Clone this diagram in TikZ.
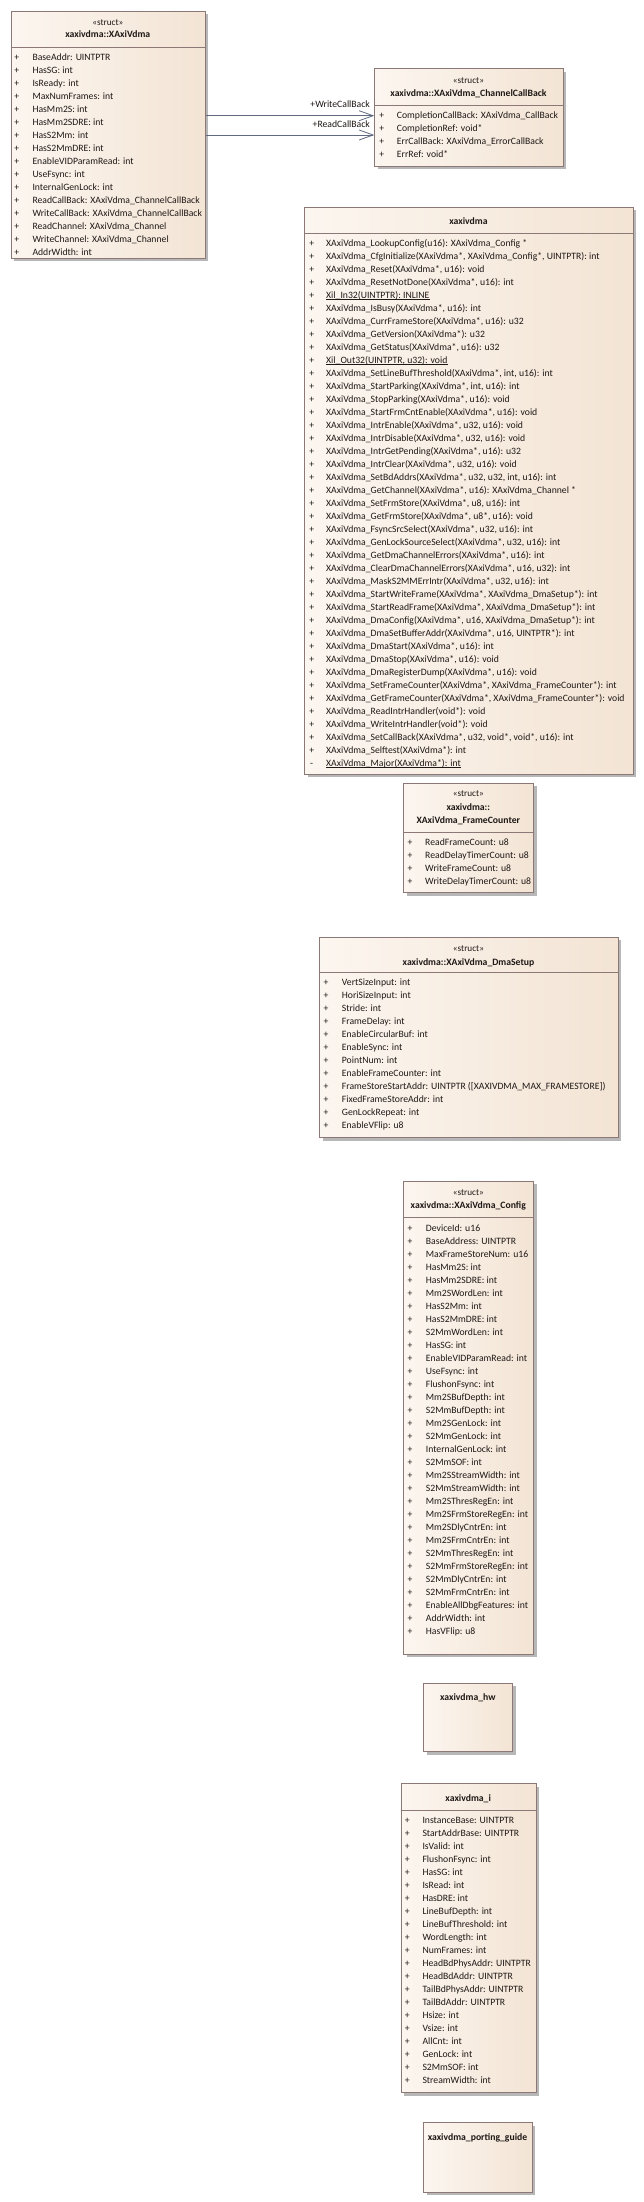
\documentclass[tikz,border=0pt]{standalone}
\usepackage{fontspec}
\setmainfont{Carlito}
\usepackage{tikz}
\usetikzlibrary{arrows.meta,shadows}

\definecolor{boxline}{RGB}{140,120,118}
\definecolor{boxleft}{RGB}{252,246,240}
\definecolor{boxright}{RGB}{243,228,212}
\definecolor{shadowgrey}{RGB}{165,165,165}
\definecolor{linkline}{RGB}{96,106,128}
\definecolor{membertext}{RGB}{30,24,22}

\tikzset{
  umlbox/.style={draw=boxline, line width=0.8pt, left color=boxleft, right color=boxright,
    anchor=north west, inner sep=0pt,
    drop shadow={shadow xshift=3pt, shadow yshift=-3pt, fill=shadowgrey, opacity=0.8}},
  sepline/.style={draw=boxline, line width=0.8pt},
  member/.style={anchor=west, inner sep=0pt, text height=6.8pt, text depth=2pt,
    text=membertext, font=\fontsize{9.7}{11}\selectfont},
  vis/.style={inner sep=0pt, text height=6.8pt, text depth=2pt, text=membertext,
    font=\fontsize{9.7}{11}\selectfont},
  stereo/.style={inner sep=0pt, text height=6.8pt, text depth=2pt, text=membertext,
    font=\fontsize{9.2}{11}\selectfont},
  classname/.style={inner sep=0pt, text height=6.8pt, text depth=2pt, text=membertext,
    font=\fontsize{9.7}{11}\selectfont\bfseries},
  static/.style={draw=membertext, line width=0.6pt},
  assoc/.style={draw=linkline, line width=0.8pt, -{Straight Barb[length=14pt,width=10pt]}},
  rolelabel/.style={anchor=east, inner sep=0pt, text=membertext, font=\fontsize{9.7}{11}\selectfont},
}

\begin{document}
\catcode`\_=12
\begin{tikzpicture}[x=1pt,y=1pt]
\path[use as bounding box, fill=white] (0,0) rectangle (643,-2202);

% struct XAxiVdma
\node[umlbox, minimum width=194.3, minimum height=247.3] (vdma) at (10.7,-10.7) {};
\draw[sepline] ([yshift=-36.3pt]vdma.north west) -- ([yshift=-36.3pt]vdma.north east);
\node[stereo] (vdmast) at (107.8,-23.3) {«struct»};
\node[classname] (vdmaname) at (107.8,-35.5) {xaxivdma::XAxiVdma};
\foreach \m [count=\i from 0] in {BaseAddr: UINTPTR, HasSG: int, IsReady: int, MaxNumFrames: int,
  HasMm2S: int, HasMm2SDRE: int, HasS2Mm: int, HasS2MmDRE: int, EnableVIDParamRead: int,
  UseFsync: int, InternalGenLock: int, ReadCallBack: XAxiVdma_ChannelCallBack,
  WriteCallBack: XAxiVdma_ChannelCallBack, ReadChannel: XAxiVdma_Channel,
  WriteChannel: XAxiVdma_Channel, AddrWidth: int}
  \node[member] (vdmam\i) at (32.3,-58.3-13*\i) {\m} node[vis] at (16.7,-58.3-13*\i) {+};

% struct XAxiVdma_ChannelCallBack
\node[umlbox, minimum width=188.4, minimum height=97.4] (cb) at (374.3,-68.3) {};
\draw[sepline] ([yshift=-37pt]cb.north west) -- ([yshift=-37pt]cb.north east);
\node[stereo] (cbst) at (468.5,-81) {«struct»};
\node[classname] (cbname) at (468.5,-93.7) {xaxivdma::XAxiVdma_ChannelCallBack};
\foreach \m [count=\i from 0] in {CompletionCallBack: XAxiVdma_CallBack, CompletionRef: void*,
  ErrCallBack: XAxiVdma_ErrorCallBack, ErrRef: void*}
  \node[member] (cbm\i) at (396.7,-115.7-13*\i) {\m} node[vis] at (381.7,-115.7-13*\i) {+};

% the two associations
\coordinate (wcb) at (0,-115.7);
\coordinate (rcb) at (0,-135);
\draw[assoc] (vdma.east |- wcb) -- (cb.west |- wcb)
  node[rolelabel, pos=1, xshift=-4pt, yshift=11.7pt] {+WriteCallBack};
\draw[assoc] (vdma.east |- rcb) -- (cb.west |- rcb)
  node[rolelabel, pos=1, xshift=-4pt, yshift=11pt] {+ReadCallBack};

% file xaxivdma
\node[umlbox, minimum width=328.4, minimum height=567.3] (api) at (304.3,-206.7) {};
\draw[sepline] ([yshift=-26.6pt]api.north west) -- ([yshift=-26.6pt]api.north east);
\node[classname] (apiname) at (468.5,-222.3) {xaxivdma};
\foreach \m [count=\i from 0] in {XAxiVdma_LookupConfig(u16): XAxiVdma_Config *,
  {XAxiVdma_CfgInitialize(XAxiVdma*, XAxiVdma_Config*, UINTPTR): int},
  {XAxiVdma_Reset(XAxiVdma*, u16): void},
  {XAxiVdma_ResetNotDone(XAxiVdma*, u16): int},
  {Xil_In32(UINTPTR): INLINE},
  {XAxiVdma_IsBusy(XAxiVdma*, u16): int},
  {XAxiVdma_CurrFrameStore(XAxiVdma*, u16): u32},
  {XAxiVdma_GetVersion(XAxiVdma*): u32},
  {XAxiVdma_GetStatus(XAxiVdma*, u16): u32},
  {Xil_Out32(UINTPTR, u32): void},
  {XAxiVdma_SetLineBufThreshold(XAxiVdma*, int, u16): int},
  {XAxiVdma_StartParking(XAxiVdma*, int, u16): int},
  {XAxiVdma_StopParking(XAxiVdma*, u16): void},
  {XAxiVdma_StartFrmCntEnable(XAxiVdma*, u16): void},
  {XAxiVdma_IntrEnable(XAxiVdma*, u32, u16): void},
  {XAxiVdma_IntrDisable(XAxiVdma*, u32, u16): void},
  {XAxiVdma_IntrGetPending(XAxiVdma*, u16): u32},
  {XAxiVdma_IntrClear(XAxiVdma*, u32, u16): void},
  {XAxiVdma_SetBdAddrs(XAxiVdma*, u32, u32, int, u16): int},
  {XAxiVdma_GetChannel(XAxiVdma*, u16): XAxiVdma_Channel *},
  {XAxiVdma_SetFrmStore(XAxiVdma*, u8, u16): int},
  {XAxiVdma_GetFrmStore(XAxiVdma*, u8*, u16): void},
  {XAxiVdma_FsyncSrcSelect(XAxiVdma*, u32, u16): int},
  {XAxiVdma_GenLockSourceSelect(XAxiVdma*, u32, u16): int},
  {XAxiVdma_GetDmaChannelErrors(XAxiVdma*, u16): int},
  {XAxiVdma_ClearDmaChannelErrors(XAxiVdma*, u16, u32): int},
  {XAxiVdma_MaskS2MMErrIntr(XAxiVdma*, u32, u16): int},
  {XAxiVdma_StartWriteFrame(XAxiVdma*, XAxiVdma_DmaSetup*): int},
  {XAxiVdma_StartReadFrame(XAxiVdma*, XAxiVdma_DmaSetup*): int},
  {XAxiVdma_DmaConfig(XAxiVdma*, u16, XAxiVdma_DmaSetup*): int},
  {XAxiVdma_DmaSetBufferAddr(XAxiVdma*, u16, UINTPTR*): int},
  {XAxiVdma_DmaStart(XAxiVdma*, u16): int},
  {XAxiVdma_DmaStop(XAxiVdma*, u16): void},
  {XAxiVdma_DmaRegisterDump(XAxiVdma*, u16): void},
  {XAxiVdma_SetFrameCounter(XAxiVdma*, XAxiVdma_FrameCounter*): int},
  {XAxiVdma_GetFrameCounter(XAxiVdma*, XAxiVdma_FrameCounter*): void},
  {XAxiVdma_ReadIntrHandler(void*): void},
  {XAxiVdma_WriteIntrHandler(void*): void},
  {XAxiVdma_SetCallBack(XAxiVdma*, u32, void*, void*, u16): int},
  {XAxiVdma_Selftest(XAxiVdma*): int}}
  \node[member] (apim\i) at (326,-243.7-13*\i) {\m} node[vis] at (311.7,-243.7-13*\i) {+};
% private one
\node[member] (apimajor) at (326,-763.7) {XAxiVdma_Major(XAxiVdma*): int};
\node[vis] at (311.7,-763.7) {-};
% static members are underlined
\foreach \s in {apim4, apim9, apimajor}
  \draw[static] ([yshift=-1.6pt]\s.base west) -- ([yshift=-1.6pt]\s.base east);

% struct XAxiVdma_FrameCounter
\node[umlbox, minimum width=130, minimum height=109.6] (fc) at (403.3,-782.7) {};
\draw[sepline] ([yshift=-49.3pt]fc.north west) -- ([yshift=-49.3pt]fc.north east);
\node[stereo] (fcst) at (468.3,-794.3) {«struct»};
\node[classname] (fcname) at (468.3,-808.2) {xaxivdma::};
\node[classname] (fcname2) at (468.3,-821.3) {XAxiVdma_FrameCounter};
\foreach \m [count=\i from 0] in {ReadFrameCount: u8, ReadDelayTimerCount: u8,
  WriteFrameCount: u8, WriteDelayTimerCount: u8}
  \node[member] (fcm\i) at (425,-842.7-13*\i) {\m} node[vis] at (410,-842.7-13*\i) {+};

% struct XAxiVdma_DmaSetup
\node[umlbox, minimum width=298.4, minimum height=200.6] (ds) at (319.3,-936.7) {};
\draw[sepline] ([yshift=-36pt]ds.north west) -- ([yshift=-36pt]ds.north east);
\node[stereo] (dsst) at (468.5,-949) {«struct»};
\node[classname] (dsname) at (468.5,-962.7) {xaxivdma::XAxiVdma_DmaSetup};
\foreach \m [count=\i from 0] in {VertSizeInput: int, HoriSizeInput: int, Stride: int,
  FrameDelay: int, EnableCircularBuf: int, EnableSync: int, PointNum: int,
  EnableFrameCounter: int, FrameStoreStartAddr: UINTPTR ([XAXIVDMA_MAX_FRAMESTORE]),
  FixedFrameStoreAddr: int, GenLockRepeat: int, EnableVFlip: u8}
  \node[member] (dsm\i) at (341.7,-983.3-13*\i) {\m} node[vis] at (326,-983.3-13*\i) {+};

% struct XAxiVdma_Config
\node[umlbox, minimum width=130, minimum height=473.3] (cfg) at (403.3,-1180.7) {};
\draw[sepline] ([yshift=-37pt]cfg.north west) -- ([yshift=-37pt]cfg.north east);
\node[stereo] (cfgst) at (468.3,-1192.7) {«struct»};
\node[classname] (cfgname) at (468.3,-1205.7) {xaxivdma::XAxiVdma_Config};
\foreach \m [count=\i from 0] in {DeviceId: u16, BaseAddress: UINTPTR, MaxFrameStoreNum: u16,
  HasMm2S: int, HasMm2SDRE: int, Mm2SWordLen: int, HasS2Mm: int, HasS2MmDRE: int,
  S2MmWordLen: int, HasSG: int, EnableVIDParamRead: int, UseFsync: int, FlushonFsync: int,
  Mm2SBufDepth: int, S2MmBufDepth: int, Mm2SGenLock: int, S2MmGenLock: int,
  InternalGenLock: int, S2MmSOF: int, Mm2SStreamWidth: int, S2MmStreamWidth: int,
  Mm2SThresRegEn: int, Mm2SFrmStoreRegEn: int, Mm2SDlyCntrEn: int, Mm2SFrmCntrEn: int,
  S2MmThresRegEn: int, S2MmFrmStoreRegEn: int, S2MmDlyCntrEn: int, S2MmFrmCntrEn: int,
  EnableAllDbgFeatures: int, AddrWidth: int, HasVFlip: u8}
  \node[member] (cfgm\i) at (425.7,-1228.7-13*\i) {\m} node[vis] at (410,-1228.7-13*\i) {+};

% file xaxivdma_hw
\node[umlbox, minimum width=89, minimum height=68.6] (hw) at (423.3,-1682.7) {};
\node[classname] (hwname) at (467.8,-1698.3) {xaxivdma_hw};

% file xaxivdma_i
\node[umlbox, minimum width=135, minimum height=309] (inst) at (400.7,-1783.3) {};
\draw[sepline] ([yshift=-26.7pt]inst.north west) -- ([yshift=-26.7pt]inst.north east);
\node[classname] (instname) at (468.2,-1799) {xaxivdma_i};
\foreach \m [count=\i from 0] in {InstanceBase: UINTPTR, StartAddrBase: UINTPTR, IsValid: int,
  FlushonFsync: int, HasSG: int, IsRead: int, HasDRE: int, LineBufDepth: int,
  LineBufThreshold: int, WordLength: int, NumFrames: int, HeadBdPhysAddr: UINTPTR,
  HeadBdAddr: UINTPTR, TailBdPhysAddr: UINTPTR, TailBdAddr: UINTPTR, Hsize: int,
  Vsize: int, AllCnt: int, GenLock: int, S2MmSOF: int, StreamWidth: int}
  \node[member] (instm\i) at (422.3,-1821-13*\i) {\m} node[vis] at (407.3,-1821-13*\i) {+};

% file xaxivdma_porting_guide
\node[umlbox, minimum width=108.4, minimum height=69.4] (guide) at (423.3,-2122.3) {};
\node[classname] (guidename) at (477.5,-2138.3) {xaxivdma_porting_guide};
\end{tikzpicture}
\end{document}
